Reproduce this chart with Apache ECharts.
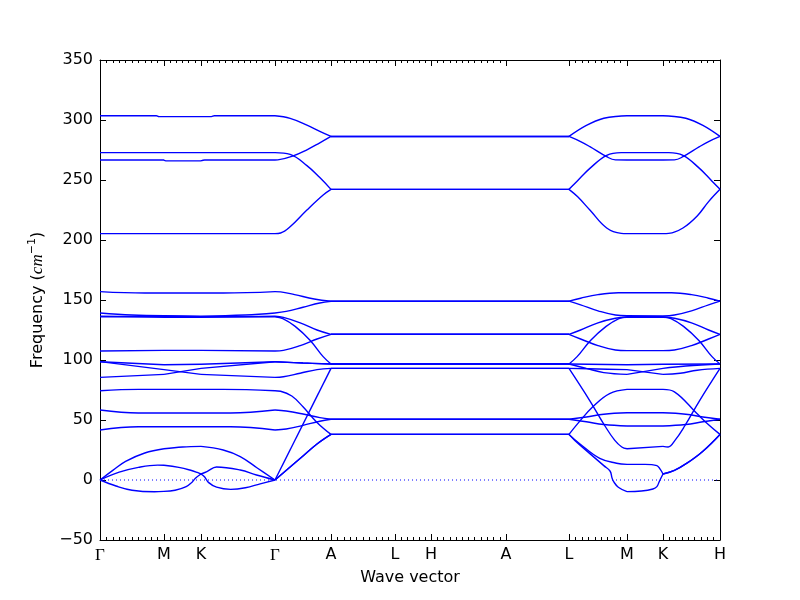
<!DOCTYPE html>
<html>
<head>
<meta charset="utf-8">
<script src="https://cdn.jsdelivr.net/npm/echarts@6/dist/echarts.min.js"></script>
<style>html,body{margin:0;padding:0;background:#fff}#chart{width:800px;height:600px}</style>
</head>
<body>
<div id="chart"></div>
<script>
// High-symmetry path: labels and cumulative path distances
const kLabels = ['Γ','M','K','Γ','A','L','H','A','L','M','K','H'];
const kDist = [0, 0.64, 1.01, 1.75, 2.31, 2.95, 3.31, 4.06, 4.69, 5.27, 5.63, 6.20];
// number of q-point steps per segment (0 = jump, no q-points)
const qSteps = [10, 6, 12, 9, 10, 6, 12, 0, 9, 0, 9];
const yMin = -50, yMax = 350, yStep = 50;

// Bands: [path parameter u (segment index + fraction), frequency cm^-1]
const band01 = [[0,303.5],[0.88,303.5],[0.92,302.8],[2.14,302.8],[2.18,303.5],[3,303.5],[3.27,301.4],[3.57,295.8],[3.8,290.5],[4,286.3],[8,286.3],[8.3,295.5],[8.6,301.5],[8.9,303.3],[9,303.5],[10,303.5],[10.1,303.3],[10.4,301.5],[10.7,295.5],[11,286.3]];
const band02 = [[0,272.8],[3,272.8],[3.27,271.3],[3.57,262],[3.8,252],[4,242.2],[8,242.2],[8.2,252],[8.36,259.7],[8.65,270.5],[8.9,272.8],[9,272.8],[10,272.8],[10.1,272.8],[10.35,270.5],[10.64,259.7],[10.8,252],[11,242.2]];
const band03 = [[0,266.7],[1,266.7],[1.05,265.9],[2,265.9],[2.05,266.7],[3,266.7],[3.05,266.8],[3.3,269.7],[3.57,275.2],[3.8,281],[4,286.3],[8,286.3],[8.2,282],[8.36,277.8],[8.65,269.4],[8.8,266.8],[9,266.7],[10,266.7],[10.2,266.8],[10.35,269.4],[10.64,277.8],[10.8,282],[11,286.3]];
const band04 = [[0,205.3],[3,205.3],[3.1,205.8],[3.27,211],[3.57,225],[3.86,237.5],[4,242.2],[8,242.2],[8.15,236],[8.36,225],[8.65,210],[8.9,205.5],[9,205.3],[10,205.3],[10.1,205.5],[10.35,210],[10.6,220],[10.8,232],[11,242.2]];
const band05 = [[0,157],[0.7,155.8],[2.3,155.8],[3,157],[3.1,156.8],[3.35,154.5],[3.7,150.8],[4,149],[8,149],[8.2,151.5],[8.5,154.5],[8.85,156],[9,156],[10,156],[10.15,156],[10.5,154.5],[10.8,151.5],[11,149]];
const band06 = [[0,139.2],[0.5,137.5],[1,137],[2,136.5],[2.6,137.5],[3,139.2],[3.2,140.5],[3.5,144],[3.8,147.5],[4,149],[8,149],[8.2,146],[8.5,141],[8.8,137.5],[9,137],[10,136.7],[10.2,137.5],[10.5,141],[10.8,146],[11,149]];
const band07 = [[0,136.5],[1,135.5],[2,135.5],[3,136.5],[3.15,135.5],[3.45,131],[3.75,125],[4,121.4],[8,121.4],[8.2,125],[8.5,131],[8.8,134.8],[9,135.6],[10,135.6],[10.2,134.8],[10.5,131],[10.8,125],[11,121.4]];
const band08 = [[0,136],[1,136.5],[2,136],[3,136],[3.14,134.5],[3.36,128],[3.625,116.5],[3.86,102.8],[4,96.7],[8,96.7],[8.14,102.8],[8.375,116.5],[8.64,128],[8.86,134.5],[9,136],[10,136],[10.14,134.5],[10.36,128],[10.625,116.5],[10.86,102.8],[11,96.7]];
const band09 = [[0,107.5],[1,108],[2,108],[3,107.5],[3.15,108],[3.45,112],[3.75,117.5],[4,121.4],[8,121.4],[8.2,117.5],[8.5,112],[8.8,108.3],[9,107.8],[10,107.8],[10.2,108.3],[10.5,112],[10.8,117.5],[11,121.4]];
const band10 = [[0,98.6],[1,96],[2,96.5],[3,98.6],[3.5,97.5],[4,96.7],[8,96.7],[9,96],[10,96.5],[11,96.7]];
const band11 = [[0,98.6],[1,92],[2,88],[3,85.5],[3.15,86],[3.45,89],[3.75,92],[4,93],[8,93],[8.5,92.5],[9,92],[10,88],[10.3,89],[10.6,91.5],[11,93]];
const band12 = [[0,85.5],[1,88],[2,93],[3,98.6],[3.5,97.5],[4,96.7],[8,96.7],[8.3,93],[8.6,89.5],[9,88],[10,93],[10.4,95],[11,96.7]];
const band13 = [[0,74.4],[0.6,75.5],[2.3,75.5],[3,74.4],[3.1,74],[3.3,70],[3.5,61],[3.75,48],[4,38],[8,38],[8.15,47],[8.41,61],[8.7,72],[9,75.5],[10,75.5],[10.2,73.5],[10.59,55.6],[10.8,46],[11,38]];
const band14 = [[0,58.3],[0.6,55.8],[2.4,55.8],[3,58.3],[3.2,57.5],[3.5,55],[3.8,52],[4,50.6],[8,50.6],[8.3,52.5],[8.6,54.8],[9,56],[10,56],[10.4,54.8],[10.7,52.5],[11,50.6]];
const band15 = [[0,41.7],[0.6,44.4],[2.4,44.4],[3,41.7],[3.2,42.5],[3.5,45.5],[3.8,49],[4,50.6],[8,50.6],[8.3,48.5],[8.6,46.2],[9,45],[10,45],[10.4,46.2],[10.7,48.5],[11,50.6]];
const band16 = [[0,0],[0.2,8],[0.4,15.5],[0.7,22.5],[1,26],[1.5,27.5],[2,28],[2.3,25],[2.53,19.5],[2.76,10],[3,0],[4,93],[8,93],[8.36,66],[8.62,45],[8.79,33],[8.91,27.5],[9,26],[10,28],[10.09,27.5],[10.21,33],[10.38,45],[10.64,66],[11,93]];
const band17 = [[0,0],[0.3,6.5],[0.6,10.5],[0.9,12.4],[1,12.3],[1.4,10.5],[1.7,8.3],[1.9,6.3],[2,5],[2.08,7],[2.21,10.8],[2.53,8.3],[2.75,4.2],[3,0],[3.5,20],[3.75,30],[4,38],[8,38],[8.19,30],[8.53,18],[8.82,14],[9,13],[9.5,13],[9.83,12],[9.92,9],[10,5],[10.2,8],[10.42,14],[10.7,24],[11,38]];
const band18 = [[0,0],[0.25,-5],[0.5,-8.5],[0.85,-9.8],[1,-9.5],[1.3,-8.5],[1.6,-5.5],[1.75,-2],[1.85,1.5],[2,5],[2.05,2.5],[2.1,-2],[2.21,-6],[2.4,-7.8],[2.6,-6.5],[2.8,-3.2],[3,0],[3.5,20],[3.75,30],[4,38],[8,38],[8.1,33],[8.36,22],[8.6,12],[8.71,7.3],[8.74,2],[8.77,-1.4],[8.85,-6],[9,-9.7],[9.4,-9.2],[9.72,-7.5],[9.83,-5.5],[9.9,-1],[10,5],[10.2,8],[10.42,14],[10.7,24],[11,38]];
const bandList = [band01,band02,band03,band04,band05,band06,band07,band08,band09,band10,band11,band12,band13,band14,band15,band16,band17,band18];

function toDist(u) {
  const s = Math.min(Math.floor(u), kDist.length - 2);
  return kDist[s] + (u - s) * (kDist[s + 1] - kDist[s]);
}

// q-point (minor tick) positions
const minorTicks = [];
qSteps.forEach((n, i) => {
  if (!n) return;
  for (let j = 0; j <= n; j++) {
    const v = +(kDist[i] + j * (kDist[i + 1] - kDist[i]) / n).toFixed(5);
    if (!minorTicks.some(m => Math.abs(m - v) < 1e-6)) minorTicks.push(v);
  }
});

const BLUE = '#0000ff';
const series = [];
bandList.forEach(b => {
  const br = [];
  b.forEach((p, i) => { if (Math.abs(p[0] - Math.round(p[0])) < 1e-9) br.push(i); });
  for (let j = 0; j < br.length - 1; j++) {
    const pts = b.slice(br[j], br[j + 1] + 1).map(p => [toDist(p[0]), p[1]]);
    series.push({
      type: 'line', data: pts, smooth: 0.4, showSymbol: false, symbol: 'none',
      lineStyle: { color: BLUE, width: 1.4 }, silent: true, z: 3
    });
  }
});
series.push({
  type: 'line', data: [[kDist[0], 0], [kDist[kDist.length - 1], 0]],
  showSymbol: false, symbol: 'none', silent: true, z: 2,
  lineStyle: { color: BLUE, width: 1, type: [1, 3] }
});

const xMax = kDist[kDist.length - 1];
const axisBlack = { lineStyle: { color: '#000', width: 1 } };
const rect = { left: 100, top: 60, width: 620, height: 480 };

const option = {
  animation: false,
  backgroundColor: '#fff',
  grid: [Object.assign({}, rect, { show: false }), Object.assign({}, rect, { show: false })],
  xAxis: [
    {
      type: 'value', gridIndex: 0, min: 0, max: xMax, position: 'bottom',
      axisLine: Object.assign({ show: true, onZero: false }, axisBlack),
      axisTick: { show: true, inside: true, length: 6, customValues: kDist, lineStyle: { color: '#000' } },
      axisLabel: {
        show: true, customValues: kDist, margin: 7, color: '#000', fontSize: 16, fontFamily: 'DejaVu Sans',
        formatter: v => {
          const i = kDist.findIndex(d => Math.abs(d - v) < 1e-6);
          const t = i >= 0 ? kLabels[i] : '';
          return t === 'Γ' ? '{g|Γ}' : t;
        },
        rich: { g: { fontFamily: 'Liberation Serif', fontSize: 17, color: '#000' } }
      },
      splitLine: { show: false },
      name: 'Wave vector', nameLocation: 'middle', nameGap: 30,
      nameTextStyle: { color: '#000', fontSize: 16, fontFamily: 'DejaVu Sans' }
    },
    {
      type: 'value', gridIndex: 0, min: 0, max: xMax, position: 'top',
      axisLine: Object.assign({ show: true, onZero: false }, axisBlack),
      axisTick: { show: true, inside: true, length: 6, customValues: kDist, lineStyle: { color: '#000' } },
      axisLabel: { show: false }, splitLine: { show: false }
    },
    {
      type: 'value', gridIndex: 1, min: 0, max: xMax, position: 'bottom',
      axisLine: { show: false, onZero: false },
      axisTick: { show: true, inside: true, length: 3, customValues: minorTicks, lineStyle: { color: '#000' } },
      axisLabel: { show: false }, splitLine: { show: false }
    },
    {
      type: 'value', gridIndex: 1, min: 0, max: xMax, position: 'top',
      axisLine: { show: false, onZero: false },
      axisTick: { show: true, inside: true, length: 3, customValues: minorTicks, lineStyle: { color: '#000' } },
      axisLabel: { show: false }, splitLine: { show: false }
    }
  ],
  yAxis: [
    {
      type: 'value', gridIndex: 0, min: yMin, max: yMax, interval: yStep, position: 'left',
      axisLine: Object.assign({ show: true, onZero: false }, axisBlack),
      axisTick: { show: true, inside: true, length: 6, lineStyle: { color: '#000' } },
      axisLabel: {
        color: '#000', fontSize: 16, fontFamily: 'DejaVu Sans', margin: 7,
        formatter: v => (v < 0 ? '\u2212' + (-v) : String(v))
      },
      splitLine: { show: false },
      name: '{n|Frequency (}{i|cm}{s|\u22121}{n|)}', nameLocation: 'middle', nameGap: 52, nameRotate: 90,
      nameTextStyle: {
        color: '#000', fontSize: 16, fontFamily: 'DejaVu Sans',
        rich: {
          n: { fontSize: 16, fontFamily: 'DejaVu Sans', color: '#000' },
          i: { fontSize: 17, fontFamily: 'Liberation Serif', fontStyle: 'italic', color: '#000' },
          s: { fontSize: 11, fontFamily: 'DejaVu Sans', color: '#000', padding: [0, 0, 10, 0] }
        }
      }
    },
    {
      type: 'value', gridIndex: 0, min: yMin, max: yMax, interval: yStep, position: 'right',
      axisLine: Object.assign({ show: true, onZero: false }, axisBlack),
      axisTick: { show: true, inside: true, length: 6, lineStyle: { color: '#000' } },
      axisLabel: { show: false }, splitLine: { show: false }
    },
    {
      type: 'value', gridIndex: 1, min: yMin, max: yMax, show: false
    }
  ],
  series: series
};

const chart = echarts.init(document.getElementById('chart'), null, { renderer: 'canvas' });
chart.setOption(option);
</script>
</body>
</html>
